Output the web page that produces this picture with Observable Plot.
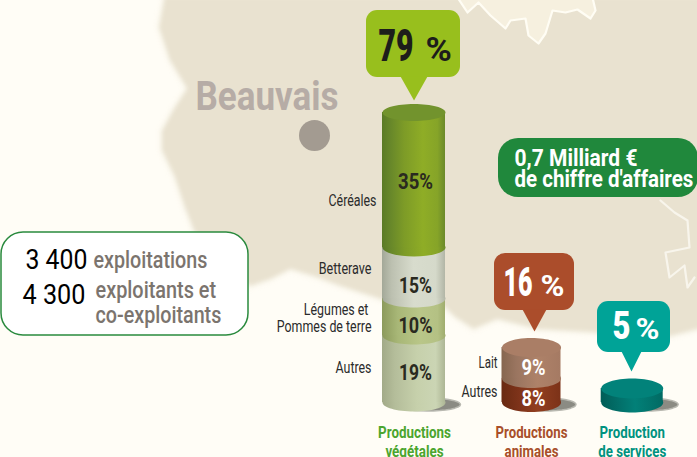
<!DOCTYPE html>
<html lang="fr">
<head>
<meta charset="utf-8">
<script src="https://cdn.jsdelivr.net/npm/d3@7"></script>
<script src="https://cdn.jsdelivr.net/npm/@observablehq/plot@0.6"></script>
<style>
html,body{margin:0;padding:0;background:#fffdf6}
#chart{position:relative;width:697px;height:457px;overflow:hidden}
#chart svg{position:absolute;left:0;top:0;background:transparent}
</style>
</head>
<body>
<div id="chart"></div>
<script>
// ---- data ----
const vegetalNames  = ["Autres", "Légumes et\u00a0\nPommes de terre", "Betterave", "Céréales"];
const vegetalValues = [19, 10, 15, 35];
const animalNames   = ["Autres", "Lait"];
const animalValues  = [8, 9];
const serviceValues = [5];
const seriesNames   = ["Productions\nvégétales", "Productions\nanimales", "Production\nde services"];
const seriesTotals  = [79, 16, 5];

// ---- layout and styles ----
const FONT = "Roboto,sans-serif";
const W = 697, H = 457;
const cyl = [
  {center: 413.5, rx: 31.5, ry: 9,  cap: "#72932d", titleColor: "#4ba52f", pctColor: "#2a2a20"},
  {center: 531,   rx: 29.5, ry: 9.5,cap: "#aa7e66", titleColor: "#a84f2a", pctColor: "#ffffff"},
  {center: 631.7, rx: 31,   ry: 10, cap: "#02827a", titleColor: "#00927f", pctColor: "#ffffff"}
];
const gradients = {
  ce: [[0,"#5a7a26"],[.12,"#66862a"],[.35,"#7d9b27"],[.65,"#8fad26"],[.88,"#86a428"],[1,"#6b8a2a"]],
  be: [[0,"#a3a898"],[.15,"#bcc0b0"],[.5,"#d8dccd"],[.85,"#d5d9ca"],[1,"#b2b6a6"]],
  le: [[0,"#8c9a5c"],[.25,"#a8b777"],[.6,"#b9c688"],[.88,"#b4c184"],[1,"#a0ad6e"]],
  av: [[0,"#a2aa88"],[.2,"#b4bd9a"],[.55,"#c6d0ab"],[.85,"#cbd5b4"],[1,"#adb695"]],
  la: [[0,"#86664f"],[.25,"#9a7560"],[.6,"#ae8269"],[1,"#a57a63"]],
  aa: [[0,"#692a12"],[.3,"#7e331a"],[.6,"#913f20"],[1,"#7c3218"]],
  se: [[0,"#005d57"],[.3,"#02706a"],[.55,"#028078"],[1,"#016a63"]]
};
const segKeys = [["av","le","be","ce"],["aa","la"],["se"]];
// label offsets in pixels from each segment's middle: [percent, name]
const segOffsets = [[[6.5,0],[15.5,14.5],[19.5,0.5],[8.5,25.5]],[[15,6],[11.5,4.5]],[[0,0]]];
// rendered width of each text: the narrow lettering of the original
const textWidths = {
  "Beauvais":143, "3 400":62, "4 300":63, "exploitations":114, "exploitants et":121, "co-exploitants":126,
  "0,7 Milliard €":123, "de chiffre d'affaires":179, "79":35, "16":29, "5":18,
  "Céréales":48, "Betterave":53, "Légumes et\u00a0Pommes de terre":95, "Autres":36, "Lait":19,
  "Productionsvégétales":73, "Productionsanimales":72, "Productionde services":68,
  "35%":35, "15%":33, "10%":34, "19%":33, "9%":24, "8%":24
};

const ellipse = k => ({draw(p, size) {
  const r = Math.sqrt(size / Math.PI), c = 0.5523;
  p.moveTo(-r, 0);
  p.bezierCurveTo(-r, -k*r*c, -r*c, -k*r, 0, -k*r);
  p.bezierCurveTo(r*c, -k*r, r, -k*r*c, r, 0);
  p.bezierCurveTo(r, k*r*c, r*c, k*r, 0, k*r);
  p.bezierCurveTo(-r*c, k*r, -r, k*r*c, -r, 0);
  p.closePath();
}});

const defs = () => {
  const d = d3.create("svg:defs");
  for (const [id, stops] of Object.entries(gradients)) {
    const g = d.append("linearGradient").attr("id", "g-" + id);
    for (const [o, c] of stops) g.append("stop").attr("offset", o).attr("stop-color", c);
  }
  return d.node();
};

// ---- segments from the value arrays ----
const names = [vegetalNames, animalNames, [""]];
const values = [vegetalValues, animalValues, serviceValues];
const segments = values.map((vals, s) => {
  let acc = 0;
  return vals.map((v, i) => {
    const seg = {s, i, value: v, y0: acc, y1: acc + v, mid: acc + v / 2, name: names[s][i], key: segKeys[s][i],
      x: cyl[s].center, pctDy: segOffsets[s][i][0], nameDy: segOffsets[s][i][1]};
    acc += v;
    return seg;
  });
});
const flat = segments.flat();

// ---- backdrop (map, Beauvais, boxes, callouts) ----
const landEdge = [[162,-5],[162,0],[157,27],[168,60],[185,88],[172,108],[160,130],[160,150],[173,177],[183,207],[192,230],[215,265],[250,287],[270,280],[290,270],[313,277],[340,287],[380,300],[420,303],[443,307],[453,317],[473,330],[497,320],[537,330],[590,333],[640,338],[670,337],[697,330],[702,330],[702,-5],[162,-5]];
const northLand = [[457,-3],[467,12],[478,2],[490,15],[505,28],[510,20],[525,18],[528,35],[538,43],[545,33],[552,10],[565,12],[577,9],[590,18],[595,10],[592,-3]];
const eastBorder = [[660,200],[674,212],[687,220],[689,247],[665,252],[669,277],[684,265],[687,287],[694,277]];

const callouts = [
  {x1:366, x2:460, y1:10,  y2:77,  tip:[[400,76],[413.5,100],[427,76]], fill:"#98bf1d", color:"#1d1d1b",
   big:"79", small:"%", bigX:378, smallX:425, base:60, bigSize:44, smallSize:33},
  {x1:494, x2:574, y1:253, y2:310, tip:[[522,309],[534,331],[546,309]], fill:"#ab4d2b", color:"#ffffff",
   big:"16", small:"%", bigX:503, smallX:540, base:295, bigSize:40, smallSize:30},
  {x1:597, x2:670, y1:301, y2:352, tip:[[621,351],[631,371],[641,351]], fill:"#00a397", color:"#ffffff",
   big:"5", small:"%", bigX:612, smallX:635, base:338, bigSize:38, smallSize:30}
];

const label = (s, x, y, size, fill, weight = 400) =>
  Plot.text([s], {x, y, text: d => d, textAnchor: "start", lineAnchor: "bottom", fontFamily: FONT, fontWeight: weight, fontSize: size, fill});

// ground shadow to the right of each cylinder
const shadowOutline = c => d3.range(0, 6.4, 0.2).map(t => [c.center + 14 + (c.rx + 1) * Math.cos(t), 404 + 6.5 * Math.sin(t)]);

const bg = Plot.plot({
  width: W, height: H, margin: 0,
  x: {type: "identity", axis: null}, y: {type: "identity", axis: null},
  marks: [
    Plot.line(landEdge, {x: "0", y: "1", fill: "#e9e2d0", stroke: "#fbf8ee", strokeWidth: 3, imageFilter: "blur(2px)"}),
    Plot.line(northLand, {x: "0", y: "1", fill: "#f6f0df", stroke: "#fffdf4", strokeWidth: 2.2}),
    Plot.line(eastBorder, {x: "0", y: "1", stroke: "#f8f5ec", strokeWidth: 2.2, imageFilter: "blur(.7px)"}),
    ...cyl.map(c => Plot.line(shadowOutline(c), {x: "0", y: "1", fill: "#8b8b83", stroke: "#b9b9b1", strokeWidth: 1.5})),
    label("Beauvais", 195, 109, 40, "#b6aca6", 700),
    Plot.dot([0], {x: 314, y: 135, r: 15.5, fill: "#a39b91"}),
    // key-figures box
    Plot.rect([0], {x1: 1, x2: 248, y1: 232, y2: 335, rx: 22, fill: "#ffffff", stroke: "#2a8a3e", strokeWidth: 1.5}),
    label("3 400", 25, 268, 28, "#000"),
    label("4 300", 22, 303, 28, "#000"),
    label("exploitations", 93, 267, 23, "#7b746e", 500),
    label("exploitants et", 95, 297, 23, "#7b746e", 500),
    label("co-exploitants", 95, 322, 23, "#7b746e", 500),
    // turnover pill
    Plot.rect([0], {x1: 498, x2: 698, y1: 138, y2: 197, rx: 20, fill: "#20883c"}),
    label("0,7 Milliard €", 514, 165, 23, "#fff", 700),
    label("de chiffre d'affaires", 514, 186, 23, "#fff", 700),
    // callouts
    ...callouts.flatMap(c => [
      Plot.rect([c], {x1: "x1", x2: "x2", y1: "y1", y2: "y2", rx: 11, fill: c.fill}),
      Plot.line(c.tip, {x: "0", y: "1", fill: c.fill, stroke: "none"}),
      label(c.big, c.bigX, c.base, c.bigSize, c.color, 900),
      label(c.small, c.smallX, c.base, c.smallSize, c.color, 700)
    ])
  ]
});

// ---- cylinders ----
const main = Plot.plot({
  width: W, height: H, margin: 0,
  x: {type: "identity", axis: null},
  y: {type: "linear", axis: null,
      domain: [0, 5, 8, 17, 19, 29, 44, 79],
      range:  [402, 388, 378, 347, 335, 298, 247, 112]},
  marks: [
    defs,
    ...flat.flatMap(seg => {
      const c = cyl[seg.s], fill = `url(#g-${seg.key})`;
      return [
        Plot.dot([seg], {x: "x", y: "y0", r: c.rx, symbol: ellipse(c.ry / c.rx), fill}),
        Plot.rect([seg], {x1: d => d.x - c.rx, x2: d => d.x + c.rx, y1: "y0", y2: "y1", fill})
      ];
    }),
    ...cyl.map((c, s) => Plot.dot([d3.sum(values[s])], {x: c.center, y: d => d, r: c.rx, symbol: ellipse((s === 0 ? 8.5 : c.ry) / c.rx), fill: c.cap})),
    // percentages and names
    ...flat.filter(d => d.s < 2).map(d => Plot.text([d], {
      x: d.x + (d.s === 0 ? 1.5 : 2), y: "mid", dy: d.pctDy, text: e => e.value + "%",
      textAnchor: "middle", lineAnchor: "bottom", fontFamily: FONT, fontWeight: 700, fontSize: 22,
      fill: cyl[d.s].pctColor
    })),
    ...flat.filter(d => d.name).map(d => Plot.text([d], {
      x: d.s === 0 ? (d.i === 3 ? 376 : 371) : 497, y: "mid", dy: d.nameDy, text: "name",
      textAnchor: "end", lineAnchor: "bottom", lineHeight: 0.98, fontFamily: FONT, fontSize: 16.5, fill: "#2b2b2b"
    })),
    // series titles
    Plot.text(seriesNames, {
      x: (d, i) => cyl[i].center + (i === 0 ? 0.5 : 0), y: () => 0, dy: 54, text: d => d,
      textAnchor: "middle", lineAnchor: "bottom", lineHeight: 1.15, fontFamily: FONT, fontWeight: 700, fontSize: 16.5,
      fill: (d, i) => cyl[i].titleColor
    })
  ]
});

const host = document.getElementById("chart");
host.append(bg, main);

// Only wide fonts are installed: condense each text to the width of the original lettering.
for (const t of host.querySelectorAll("text")) {
  const key = t.textContent, box = t.getBBox();
  const target = key === "%" ? parseFloat(getComputedStyle(t).fontSize) * 0.8 : textWidths[key];
  if (!target || !box.width) continue;
  t.setAttribute("transform", `${t.getAttribute("transform") || ""} scale(${(target / box.width).toFixed(3)},1)`);
}
</script>
</body>
</html>
